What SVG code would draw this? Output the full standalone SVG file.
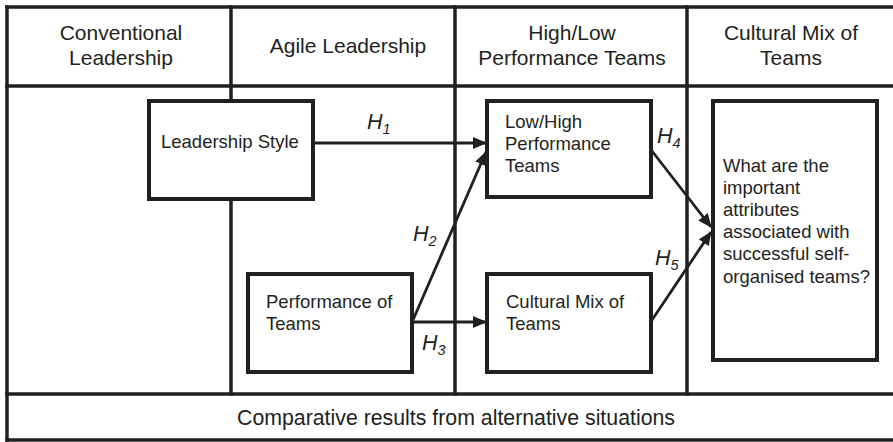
<svg xmlns="http://www.w3.org/2000/svg" width="893" height="442" viewBox="0 0 893 442">
<defs>
<style>
.frame{stroke:#231f20;stroke-width:3.5;fill:none;stroke-linecap:square}
.box{stroke:#231f20;stroke-width:4;fill:#fff}
.conn{stroke:#231f20;stroke-width:2.8;fill:none}
.hdr{font-family:"Liberation Sans",Arial,sans-serif;font-size:21px;fill:#231f20;text-anchor:middle}
.txt{font-family:"Liberation Sans",Arial,sans-serif;font-size:18.5px;fill:#231f20}
.lab{font-family:"Liberation Sans",Arial,sans-serif;font-size:21.5px;font-style:italic;fill:#231f20}
.sub{font-size:14.5px}
</style>
<marker id="arr" markerWidth="14" markerHeight="12" viewBox="0 0 14 12" refX="13" refY="6" orient="auto" markerUnits="userSpaceOnUse">
<path d="M0,0 L14,6 L0,12 Z" fill="#231f20"/>
</marker>
</defs>
<rect width="893" height="442" fill="#fff"/>
<g id="frame">
<line class="frame" x1="7" y1="7" x2="895" y2="7"/>
<line class="frame" x1="7" y1="7" x2="7" y2="440"/>
<line class="frame" x1="7" y1="86" x2="895" y2="86"/>
<line class="frame" x1="7" y1="394" x2="895" y2="394"/>
<line class="frame" x1="7" y1="440" x2="895" y2="440"/>
<line class="frame" x1="231" y1="7" x2="231" y2="394"/>
<line class="frame" x1="455" y1="7" x2="455" y2="394"/>
<line class="frame" x1="687" y1="7" x2="687" y2="394"/>
</g>
<g id="headers">
<text class="hdr" x="121" y="40">Conventional</text>
<text class="hdr" x="121" y="65">Leadership</text>
<text class="hdr" x="348" y="53">Agile Leadership</text>
<text class="hdr" x="572" y="40">High/Low</text>
<text class="hdr" x="572" y="65">Performance Teams</text>
<text class="hdr" x="791" y="40">Cultural Mix of</text>
<text class="hdr" x="791" y="65">Teams</text>
<text class="hdr" x="456" y="425" style="font-size:21.3px">Comparative results from alternative situations</text>
</g>
<g id="node-leadership-style">
<rect class="box" x="149" y="101" width="164" height="98"/>
<text class="txt" x="161" y="148">Leadership Style</text>
</g>
<g id="node-performance-of-teams">
<rect class="box" x="248" y="274" width="164" height="98"/>
<text class="txt" x="266" y="308">Performance of</text>
<text class="txt" x="266" y="330">Teams</text>
</g>
<g id="node-low-high">
<rect class="box" x="487" y="101" width="164" height="96"/>
<text class="txt" x="505" y="128">Low/High</text>
<text class="txt" x="505" y="150">Performance</text>
<text class="txt" x="505" y="172">Teams</text>
</g>
<g id="node-cultural-mix">
<rect class="box" x="487" y="274" width="164" height="98"/>
<text class="txt" x="506" y="308">Cultural Mix of</text>
<text class="txt" x="506" y="330">Teams</text>
</g>
<g id="node-attributes">
<rect class="box" x="713" y="101" width="164" height="259"/>
<text class="txt" x="723" y="172">What are the</text>
<text class="txt" x="723" y="194">important</text>
<text class="txt" x="723" y="216">attributes</text>
<text class="txt" x="723" y="238">associated with</text>
<text class="txt" x="723" y="260">successful self-</text>
<text class="txt" x="723" y="283">organised teams?</text>
</g>
<g id="connectors">
<line class="conn" x1="313" y1="143" x2="486" y2="143" marker-end="url(#arr)"/>
<line class="conn" x1="413" y1="320" x2="486" y2="152" marker-end="url(#arr)"/>
<line class="conn" x1="413" y1="322" x2="486" y2="322" marker-end="url(#arr)"/>
<line class="conn" x1="652" y1="151" x2="711" y2="227" marker-end="url(#arr)"/>
<line class="conn" x1="652" y1="320" x2="711" y2="232" marker-end="url(#arr)"/>
</g>
<g id="labels">
<text class="lab" x="367" y="129">H<tspan class="sub" dy="5">1</tspan></text>
<text class="lab" x="413" y="241">H<tspan class="sub" dy="5">2</tspan></text>
<text class="lab" x="422" y="350">H<tspan class="sub" dy="5">3</tspan></text>
<text class="lab" x="657" y="143">H<tspan class="sub" dy="5">4</tspan></text>
<text class="lab" x="655" y="265">H<tspan class="sub" dy="5">5</tspan></text>
</g>
</svg>
